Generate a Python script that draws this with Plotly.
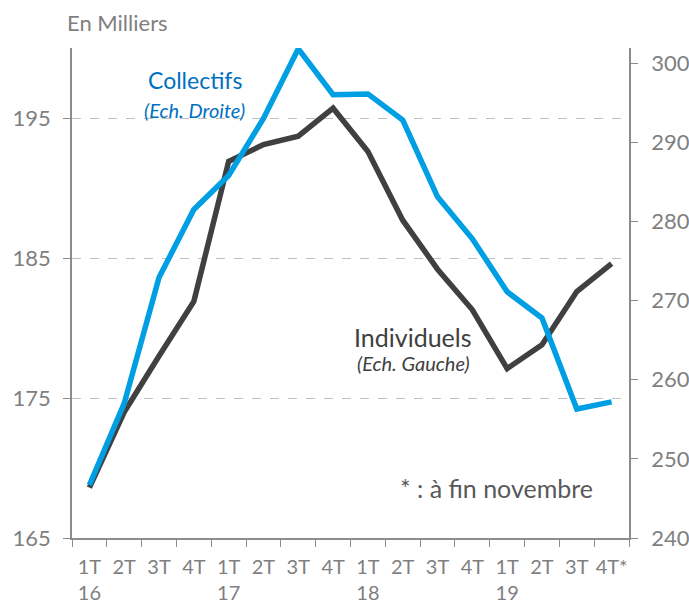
"""Individuels vs Collectifs, two-axis line chart."""
import plotly.graph_objects as go

# --- Data ---
QUARTERS = ["1T 16", "2T 16", "3T 16", "4T 16",
            "1T 17", "2T 17", "3T 17", "4T 17",
            "1T 18", "2T 18", "3T 18", "4T 18",
            "1T 19", "2T 19", "3T 19", "4T 19"]
TICK_LABELS = ["1T<br>16", "2T", "3T", "4T",
               "1T<br>17", "2T", "3T", "4T",
               "1T<br>18", "2T", "3T", "4T",
               "1T<br>19", "2T", "3T", "4T*"]
INDIVIDUELS = [168.6, 174.0, 178.0, 181.9, 191.9, 193.1, 193.7, 195.7,
               192.6, 187.7, 184.2, 181.3, 177.1, 178.8, 182.6, 184.6]
COLLECTIFS = [246.7, 257.0, 272.9, 281.5, 285.8, 293.0, 301.8, 296.0,
              296.1, 292.8, 283.1, 277.8, 271.1, 267.8, 256.3, 257.2]

# --- Style ---
BLUE = "#009FE3"
DARK = "#404040"
GREY = "#7F7F7F"
AXIS_GREY = "#8C8C8C"
FONT = "Lato"

fig = go.Figure()

fig.add_trace(go.Scatter(
    x=QUARTERS, y=INDIVIDUELS, mode="lines",
    line=dict(color=DARK, width=5.5), yaxis="y", showlegend=False,
))
fig.add_trace(go.Scatter(
    x=QUARTERS, y=COLLECTIFS, mode="lines",
    line=dict(color=BLUE, width=5.5), yaxis="y2", showlegend=False,
))

# --- Text labels ---
fig.add_annotation(xref="paper", yref="paper", x=-0.012, y=1.02,
                   xanchor="left", yanchor="bottom", showarrow=False,
                   text="En Milliers", font=dict(family=FONT, size=22, color=GREY))
fig.add_annotation(xref="paper", yref="paper", x=0.2205, y=0.934,
                   xanchor="center", yanchor="middle", showarrow=False,
                   text="Collectifs", font=dict(family=FONT, size=23, color="#0070C0"))
fig.add_annotation(xref="paper", yref="paper", x=0.2205, y=0.873,
                   xanchor="center", yanchor="middle", showarrow=False,
                   text="<i>(Ech. Droite)</i>", font=dict(family=FONT, size=20, color="#0070C0"))
fig.add_annotation(xref="paper", yref="paper", x=0.613, y=0.411,
                   xanchor="center", yanchor="middle", showarrow=False,
                   text="Individuels", font=dict(family=FONT, size=25, color=DARK))
fig.add_annotation(xref="paper", yref="paper", x=0.613, y=0.357,
                   xanchor="center", yanchor="middle", showarrow=False,
                   text="<i>(Ech. Gauche)</i>", font=dict(family=FONT, size=20, color=DARK))
fig.add_annotation(xref="paper", yref="paper", x=0.939, y=0.103,
                   xanchor="right", yanchor="middle", showarrow=False,
                   text="* : à fin novembre", font=dict(family=FONT, size=25, color="#595959"))

fig.update_layout(
    width=689, height=605,
    margin=dict(l=72, r=60, t=48, b=67),
    plot_bgcolor="white", paper_bgcolor="white",
    font=dict(family=FONT, color=GREY),
    xaxis=dict(
        type="category", showline=True, linecolor=AXIS_GREY, linewidth=1.5,
        ticks="outside", tickson="boundaries", ticklen=7, tickcolor=AXIS_GREY,
        tickvals=QUARTERS, ticktext=TICK_LABELS, automargin=False,
        showgrid=False, tickfont=dict(size=20, color=GREY), tickangle=0,
        ticklabelstandoff=10, range=[-0.5, 15.5], fixedrange=True,
    ),
    yaxis=dict(
        range=[165, 200], dtick=10, tick0=165, automargin=False,
        showline=True, linecolor=AXIS_GREY, linewidth=1.5,
        ticks="outside", ticklen=7, tickcolor=AXIS_GREY,
        showgrid=True, gridcolor="#BFBFBF", griddash="dash", gridwidth=1,
        zeroline=False, tickfont=dict(size=22, color=GREY),
        ticklabelstandoff=8,
    ),
    yaxis2=dict(
        range=[240, 301.9], dtick=10, tick0=240, automargin=False,
        overlaying="y", side="right",
        showline=True, linecolor=AXIS_GREY, linewidth=1.5,
        ticks="outside", ticklen=7, tickcolor=AXIS_GREY,
        showgrid=False, zeroline=False, tickfont=dict(size=22, color=GREY),
        ticklabelstandoff=9,
    ),
)

# drop the browser's default 8px body margin so the figure fills the window
fig.write_html(
    "out.html",
    config={"displayModeBar": False},
    post_script="document.body.style.margin='0';document.body.style.overflow='hidden';",
)
